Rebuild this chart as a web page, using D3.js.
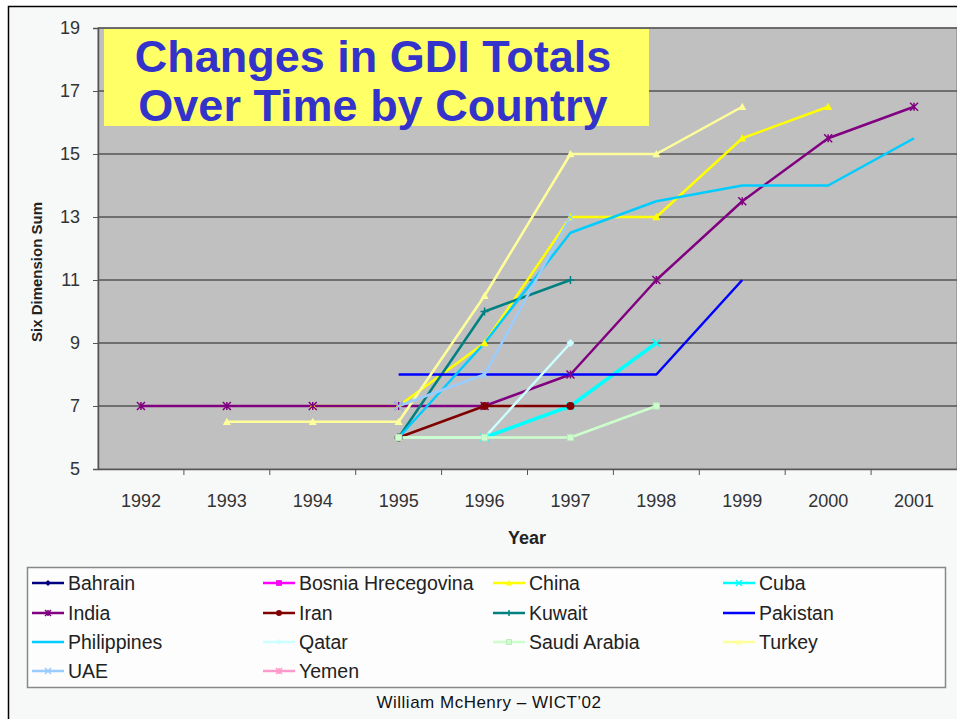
<!DOCTYPE html>
<html>
  <head>
    <meta charset="utf-8">
    <script src="https://cdn.jsdelivr.net/npm/d3@7/dist/d3.min.js"></script>
    <style>
        body { margin:0; background:#ffffff; }
        svg { display:block; font-family: "Liberation Sans", Arial, sans-serif; }
    </style>
  </head>
  <body>
    <script>
      // data
      var years = [1992, 1993, 1994, 1995, 1996, 1997, 1998, 1999, 2000, 2001];
      var yTicks = [5, 7, 9, 11, 13, 15, 17, 19];
      var countries = ["Bahrain", "Bosnia Hrecegovina", "China", "Cuba", "India", "Iran", "Kuwait",
                       "Pakistan", "Philippines", "Qatar", "Saudi Arabia", "Turkey", "UAE", "Yemen"];
      var colors = ["#000080", "#ff00ff", "#ffff00", "#00ffff", "#800080", "#800000", "#008080",
                    "#0000ff", "#00ccff", "#ccffff", "#ccffcc", "#ffff99", "#99ccff", "#ff99cc"];
      var markers = ["diamond", "square", "triangle", "x", "star", "circle", "plus",
                     "none", "none", "diamond", "square", "triangle", "x", "star"];
      // values per country: [year, value]
      var bahrain = [];
      var bosnia = [];
      var china = [[1994, 7], [1995, 7], [1996, 9], [1997, 13], [1998, 13], [1999, 15.5], [2000, 16.5]];
      var cuba = [[1996, 6], [1997, 7], [1998, 9]];
      var india = [[1992, 7], [1993, 7], [1994, 7], [1995, 7], [1996, 7], [1997, 8], [1998, 11], [1999, 13.5], [2000, 15.5], [2001, 16.5]];
      var iran = [[1995, 6], [1996, 7], [1997, 7]];
      var kuwait = [[1995, 6], [1996, 10], [1997, 11]];
      var pakistan = [[1995, 8], [1996, 8], [1997, 8], [1998, 8], [1999, 11]];
      var philippines = [[1995, 6], [1996, 9], [1997, 12.5], [1998, 13.5], [1999, 14], [2000, 14], [2001, 15.5]];
      var qatar = [[1995, 6], [1996, 6], [1997, 9]];
      var saudi = [[1995, 6], [1996, 6], [1997, 6], [1998, 7]];
      var turkey = [[1993, 6.5], [1994, 6.5], [1995, 6.5], [1996, 10.5], [1997, 15], [1998, 15], [1999, 16.5]];
      var uae = [[1995, 7], [1996, 8], [1997, 13]];
      var yemen = [];
      var seriesValues = [bahrain, bosnia, china, cuba, india, iran, kuwait, pakistan, philippines, qatar, saudi, turkey, uae, yemen];

      var width = 957, height = 719;
      var svg = d3.select("body").append("svg").attr("width", width).attr("height", height);

      // page frame
      svg.append("rect").attr("x", 0).attr("y", 0).attr("width", width).attr("height", height).attr("fill", "#ffffff");
      svg.append("rect").attr("x", 8.5).attr("y", 6.5).attr("width", 960).attr("height", 730)
        .attr("fill", "#f7f9f9").attr("stroke", "#000").attr("stroke-width", 1.5);

      var plot = {left: 98, right: 957, top: 28, bottom: 469};

      var xBand = d3.scaleBand().domain(years).range([plot.left, plot.right]);
      var x = function(yr) { return xBand(yr) + xBand.bandwidth() / 2; };
      var y = d3.scaleLinear().domain([5, 19]).range([plot.bottom, plot.top]);

      // plot background
      svg.append("rect").attr("x", plot.left).attr("y", plot.top)
        .attr("width", plot.right - plot.left).attr("height", plot.bottom - plot.top)
        .attr("fill", "#c0c0c0").attr("stroke", "#808080");

      // grid
      svg.append("g").selectAll("line").data(yTicks.slice(1)).enter().append("line")
        .attr("x1", plot.left).attr("x2", plot.right)
        .attr("y1", function(d) { return y(d); }).attr("y2", function(d) { return y(d); })
        .attr("stroke", "#555").attr("stroke-width", 1.5);

      // y axis
      var gy = svg.append("g").attr("transform", "translate(" + plot.left + ",0)")
        .call(d3.axisLeft(y).tickValues(yTicks).tickSize(5).tickPadding(13));
      gy.select(".domain").attr("stroke", "#555").attr("stroke-width", 1.5);
      gy.selectAll(".tick line").attr("stroke", "#555");
      gy.selectAll("text").attr("font-size", 18).attr("fill", "#333");

      // x axis: labels in centre, ticks on category boundaries
      var gx = svg.append("g").attr("transform", "translate(0," + plot.bottom + ")")
        .call(d3.axisBottom(xBand).tickSize(0).tickPadding(25));
      gx.select(".domain").attr("stroke", "#555").attr("stroke-width", 1.5);
      gx.selectAll("text").attr("font-size", 18).attr("fill", "#333");
      gx.selectAll(".bound").data(years.slice(1)).enter().append("line").attr("class", "bound")
        .attr("x1", function(d) { return xBand(d); }).attr("x2", function(d) { return xBand(d); })
        .attr("y1", 0).attr("y2", 6).attr("stroke", "#555");

      svg.append("text").attr("x", 527).attr("y", 544).attr("text-anchor", "middle")
        .attr("font-size", 18).attr("font-weight", "bold").attr("fill", "#222").text("Year");
      svg.append("text").attr("transform", "translate(42,272) rotate(-90)").attr("text-anchor", "middle")
        .attr("font-size", 15).attr("font-weight", "bold").attr("fill", "#222").text("Six Dimension Sum");

      // marker drawing
      function drawMarker(sel, type, color, size) {
        var s = size;
        if (type == "diamond") {
          sel.append("path").attr("d", "M0," + (-s) + "L" + s + ",0L0," + s + "L" + (-s) + ",0Z").attr("fill", color);
        } else if (type == "square") {
          sel.append("rect").attr("x", -s * 0.8).attr("y", -s * 0.8).attr("width", s * 1.6).attr("height", s * 1.6)
            .attr("fill", color).attr("stroke", d3.color(color).darker(0.3)).attr("stroke-width", 0.8);
        } else if (type == "triangle") {
          sel.append("path").attr("d", "M0," + (-s) + "L" + s + "," + (s * 0.8) + "L" + (-s) + "," + (s * 0.8) + "Z").attr("fill", color);
        } else if (type == "circle") {
          sel.append("circle").attr("r", s).attr("fill", color);
        } else if (type == "x") {
          sel.append("path").attr("d", "M" + (-s) + "," + (-s) + "L" + s + "," + s + "M" + s + "," + (-s) + "L" + (-s) + "," + s)
            .attr("stroke", color).attr("stroke-width", 1.5);
        } else if (type == "star") {
          sel.append("path").attr("d", "M" + (-s) + "," + (-s) + "L" + s + "," + s + "M" + s + "," + (-s) + "L" + (-s) + "," + s + "M0," + (-s) + "L0," + s)
            .attr("stroke", color).attr("stroke-width", 1.5);
        } else if (type == "plus") {
          sel.append("path").attr("d", "M" + (-s) + ",0L" + s + ",0M0," + (-s) + "L0," + s)
            .attr("stroke", color).attr("stroke-width", 1.5);
        }
      }

      var line = d3.line().x(function(d) { return x(d[0]); }).y(function(d) { return y(d[1]); });

      // lines first, then markers on top
      var linesG = svg.append("g");
      seriesValues.forEach(function(vals, i) {
        if (vals.length == 0) return;
        linesG.append("path").datum(vals).attr("d", line).attr("fill", "none")
          .attr("stroke", colors[i]).attr("stroke-width", i == 3 ? 3.5 : 2.5).attr("stroke-linejoin", "round");
      });
      var markG = svg.append("g");
      seriesValues.forEach(function(vals, i) {
        vals.forEach(function(d) {
          var m = markG.append("g").attr("transform", "translate(" + x(d[0]) + "," + y(d[1]) + ")");
          drawMarker(m, markers[i], colors[i], 4);
        });
      });

      // title box
      svg.append("rect").attr("x", 104).attr("y", 29).attr("width", 545).attr("height", 97).attr("fill", "#ffff66");
      svg.append("text").attr("x", 373).attr("y", 72).attr("text-anchor", "middle")
        .attr("font-size", 45).attr("font-weight", "bold").attr("fill", "#3333cc").text("Changes in GDI Totals");
      svg.append("text").attr("x", 373).attr("y", 121).attr("text-anchor", "middle")
        .attr("font-size", 45).attr("font-weight", "bold").attr("fill", "#3333cc").text("Over Time by Country");

      // legend
      svg.append("rect").attr("x", 27.5).attr("y", 567.5).attr("width", 918).attr("height", 120)
        .attr("fill", "#fdfdfd").attr("stroke", "#888").attr("stroke-width", 1.5);
      var colX = [32, 263, 493, 723];
      var rowY = [583, 613, 642, 671];
      countries.forEach(function(name, i) {
        var cx = colX[i % 4], cy = rowY[Math.floor(i / 4)];
        var g = svg.append("g").attr("transform", "translate(" + cx + "," + cy + ")");
        g.append("line").attr("x1", 0).attr("x2", 32).attr("y1", 0).attr("y2", 0)
          .attr("stroke", colors[i]).attr("stroke-width", 2.5);
        var m = g.append("g").attr("transform", "translate(16,0)");
        drawMarker(m, markers[i], colors[i], 3);
        g.append("text").attr("x", 36).attr("y", 7).attr("font-size", 19.5).attr("fill", "#222").text(name);
      });

      svg.append("text").attr("x", 489).attr("y", 708).attr("text-anchor", "middle")
        .attr("font-size", 17).attr("letter-spacing", 0.5).attr("fill", "#111").text("William McHenry \u2013 WICT\u201902");
    </script>
  </body>
</html>
